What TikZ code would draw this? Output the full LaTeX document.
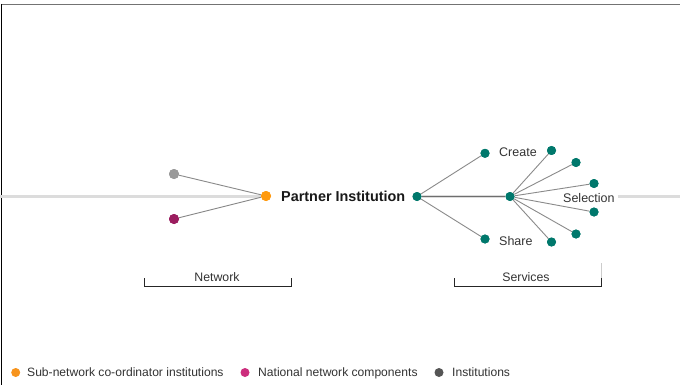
\documentclass[tikz,border=0pt]{standalone}
\usepackage{fontspec}
\setmainfont{Liberation Sans}
\definecolor{teal1}{HTML}{00786C}
\definecolor{orange1}{HTML}{FF9A0E}
\definecolor{purple1}{HTML}{9B1D5F}
\definecolor{gray1}{HTML}{9A9A9A}
\definecolor{legorange}{HTML}{F7941D}
\definecolor{legmagenta}{HTML}{CC2D7D}
\definecolor{leggray}{HTML}{555555}
\definecolor{linkgray}{HTML}{8A8A8A}
\definecolor{bgline}{HTML}{DCDCDC}
\definecolor{txtgray}{HTML}{333333}
\begin{document}
\begin{tikzpicture}[x=1pt,y=-1pt,
  dot/.style={circle,inner sep=0pt,minimum size=10pt},
  tdot/.style={circle,inner sep=0pt,minimum size=9pt,fill=teal1},
  ldot/.style={circle,inner sep=0pt,minimum size=9pt},
  conn/.style={draw=linkgray,line width=0.9pt},
  bgl/.style={draw=bgline,line width=3pt},
  lbl/.style={font=\fontsize{12.5}{14}\selectfont,text=txtgray,inner sep=0pt,anchor=base west},
  leg/.style={font=\fontsize{12.1}{14}\selectfont,text=txtgray,inner sep=0pt,anchor=base west},
  brk/.style={draw=black!85,line width=0.8pt},
  blbl/.style={font=\fontsize{12.3}{14}\selectfont,text=txtgray,inner sep=0pt,anchor=base}]
\useasboundingbox (0,0) rectangle (680,385);
\fill[white] (0,0) rectangle (680,385);
% frame
\draw[draw=black!55,line width=1.6pt] (1,4.5) -- (680,4.5);
\draw[draw=black,line width=1pt] (1.5,4) -- (1.5,385);
% nodes
\node[dot,fill=gray1] (inst) at (174,174) {};
\node[dot,fill=purple1] (nat) at (174,219) {};
\node[dot,fill=orange1] (sub) at (266,196) {};
\node[font=\fontsize{14.4}{16}\selectfont\bfseries,text=black!90,inner sep=0pt,anchor=base west] (ptxt) at (281,201.2) {Partner Institution};
\node[tdot] (pi) at (417,196.5) {};
\node[tdot] (create) at (485,153.3) {};
\node[tdot] (share) at (485,239) {};
\node[tdot] (hub) at (510,196.5) {};
\node[tdot] (f1) at (551.5,150.5) {};
\node[tdot] (f2) at (576,162.5) {};
\node[tdot] (f3) at (594,183.5) {};
\node[tdot] (f4) at (594,212) {};
\node[tdot] (f5) at (576,234) {};
\node[tdot] (f6) at (551.5,242) {};
\node[lbl] (lcreate) at (499,156.5) {Create};
\node[lbl] (lshare) at (499,245.5) {Share};
\node[lbl] (lsel) at (563,202.2) {Selection};
\coordinate (left) at (0,196);
\coordinate (right) at (680,196);
% background line
\begin{scope}[on background layer/.style={}]
\end{scope}
\draw[bgl] (left) -- (sub.west);
\draw[bgl] (pi.east) -- (hub.west);
\draw[bgl] (lsel.east |- right) ++(3,0) coordinate (rstart) -- (right);
% connectors
\draw[conn] (inst) -- (sub);
\draw[conn] (nat) -- (sub);
\draw[conn] (pi) -- (create);
\draw[conn] (pi) -- (share);
\draw[draw=linkgray!80!black,line width=1pt] (pi) -- (hub);
\foreach \f in {f1,f2,f3,f4,f5,f6} \draw[conn] (hub) -- (\f);
% redraw nodes on top
\node[dot,fill=gray1] at (inst) {};
\node[dot,fill=purple1] at (nat) {};
\node[dot,fill=orange1] at (sub) {};
\foreach \f in {pi,create,share,hub,f1,f2,f3,f4,f5,f6} \node[tdot] at (\f) {};
% brackets
\coordinate (n1) at (144,278);
\coordinate (n2) at (144,286);
\coordinate (n3) at (291,286);
\coordinate (n4) at (291,278);
\draw[brk] (n1) -- (n2) -- (n3) -- (n4);
\node[blbl] (lnet) at (217,281) {Network};
\coordinate (s1) at (454,278);
\coordinate (s2) at (454,286);
\coordinate (s3) at (601,286);
\coordinate (s4) at (601,278);
\coordinate (s5) at (601,263);
\draw[draw=black!20,line width=0.6pt] (s4) -- (s5);
\draw[brk] (s1) -- (s2) -- (s3) -- (s4);
\node[blbl] (lserv) at (526,281) {Services};
% legend
\node[ldot,fill=legorange] (lg1) at (15.7,372.5) {};
\node[leg] (lt1) at (27,376.8) {Sub-network co-ordinator institutions};
\node[ldot,fill=legmagenta] (lg2) at (245,372.5) {};
\node[leg] (lt2) at (258,376.8) {National network components};
\node[ldot,fill=leggray] (lg3) at (439,372.5) {};
\node[leg] (lt3) at (452,376.8) {Institutions};
\end{tikzpicture}
\end{document}
